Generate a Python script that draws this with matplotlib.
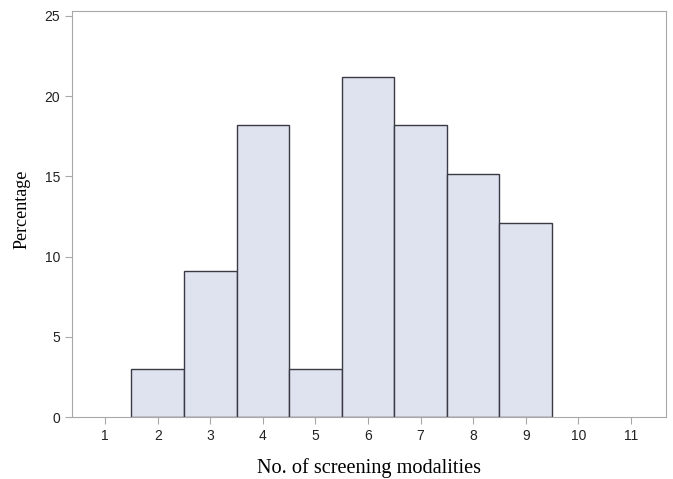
import numpy as np
import matplotlib.pyplot as plt

# number of screening modalities and the percentage of respondents
modalities = [2, 3, 4, 5, 6, 7, 8, 9]
percent = [3.03, 9.09, 18.18, 3.03, 21.21, 18.18, 15.15, 12.12]
xticks = list(range(1, 12))
yticks = [0, 5, 10, 15, 20, 25]

fig = plt.figure(figsize=(6.73, 4.79), dpi=100)
ax = fig.add_axes([0.107, 0.129, 0.882, 0.848])

ax.bar(modalities, percent, width=1.0, color='#dfe2ef', edgecolor='#3a3a44', linewidth=1.0)

ax.set_xlim(0.37, 11.66)
ax.set_ylim(0, 25.3)
ax.set_xticks(xticks)
ax.set_yticks(yticks)

for sp in ax.spines.values():
    sp.set_color('#a8a8a8')
ax.tick_params(colors='#222222', labelsize=10, direction='out', length=5, width=0.8)
ax.tick_params(axis='both', color='#a8a8a8')
for lab in ax.get_xticklabels() + ax.get_yticklabels():
    lab.set_family('Liberation Sans')

ax.set_xlabel('No. of screening modalities', family='Liberation Serif', fontsize=14.6, labelpad=11)
ax.set_ylabel('Percentage', family='Liberation Serif', fontsize=13)
ax.yaxis.set_label_coords(-0.07, 0.512)

fig.savefig('out.png', dpi=100)
